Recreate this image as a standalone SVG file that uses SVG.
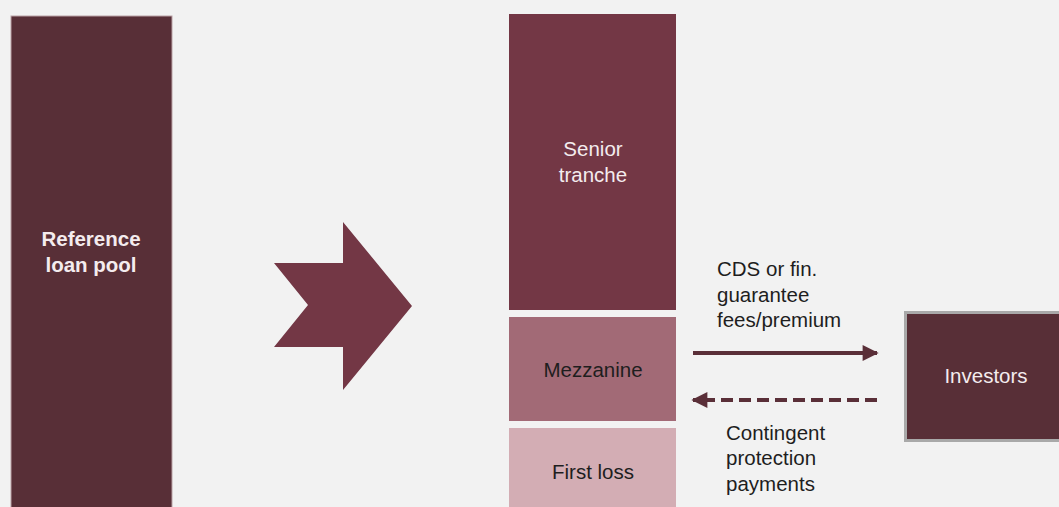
<svg xmlns="http://www.w3.org/2000/svg" width="1059" height="507" viewBox="0 0 1059 507">
  <style>
    text { font-family: "Liberation Sans", Arial, sans-serif; font-size: 20.5px; }
    .light { fill: #F4ECEE; }
    .dark { fill: #1E1E1E; }
    .bold { font-weight: bold; }
    .mid { text-anchor: middle; }
    .flow { stroke: #5A2F38; stroke-width: 4; fill: none; }
  </style>
  <defs>
    <marker id="head" viewBox="0 0 10 10" refX="9" refY="5" markerWidth="4.2" markerHeight="4" orient="auto-start-reverse" markerUnits="strokeWidth">
      <path d="M0,0 L10,5 L0,10 Z" fill="#5A2F38"/>
    </marker>
  </defs>
  <rect width="1059" height="507" fill="#F2F2F2"/>

  <g id="loan-pool">
    <rect x="11" y="16" width="161" height="495" fill="#582F37" stroke="#B9A2A6" stroke-width="1"/>
    <text class="light bold mid" x="91" y="246">Reference</text>
    <text class="light bold mid" x="91" y="272">loan pool</text>
  </g>

  <g id="transform-arrow">
    <polygon points="274,263 343,263 343,222 412,306 343,390 343,347 274,347 308,305" fill="#733745"/>
  </g>

  <g id="senior">
    <rect x="509" y="14" width="167" height="296" fill="#733745"/>
    <text class="light mid" x="593" y="156">Senior</text>
    <text class="light mid" x="593" y="182">tranche</text>
  </g>

  <g id="mezzanine">
    <rect x="509" y="317" width="167" height="104" fill="#A26A76"/>
    <text class="dark mid" x="593" y="377">Mezzanine</text>
  </g>

  <g id="first-loss">
    <rect x="509" y="428" width="167" height="85" fill="#D3ADB4"/>
    <text class="dark mid" x="593" y="479">First loss</text>
  </g>

  <g id="investors">
    <rect x="905.5" y="312.5" width="160" height="128" fill="#582F37" stroke="#A9A9A9" stroke-width="3"/>
    <text class="light mid" x="986" y="383">Investors</text>
  </g>

  <g id="connectors">
    <line class="flow" x1="693" y1="353" x2="877" y2="353" marker-end="url(#head)"/>
    <line class="flow" x1="877" y1="400" x2="693" y2="400" stroke-dasharray="12 6" marker-end="url(#head)"/>
    <text class="dark" x="717" y="276">CDS or fin.</text>
    <text class="dark" x="717" y="302">guarantee</text>
    <text class="dark" x="717" y="327">fees/premium</text>
    <text class="dark" x="726" y="440">Contingent</text>
    <text class="dark" x="726" y="465">protection</text>
    <text class="dark" x="726" y="491">payments</text>
  </g>
</svg>
